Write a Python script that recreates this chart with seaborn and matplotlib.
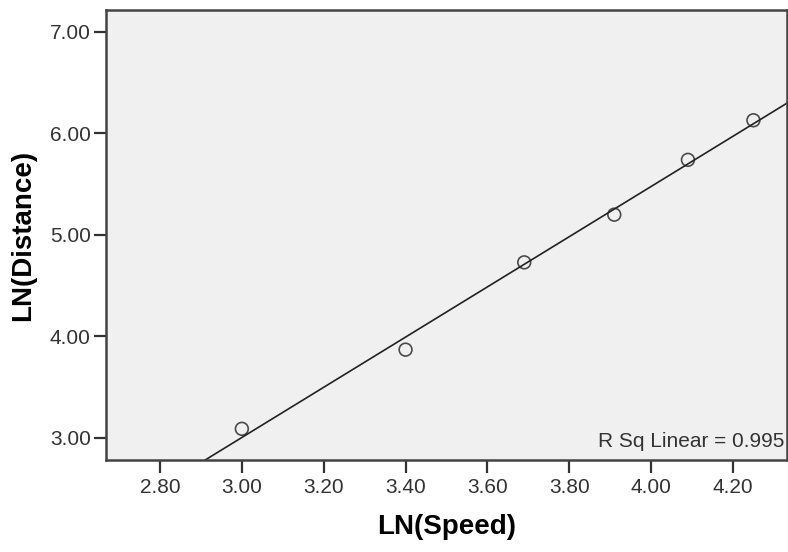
import numpy as np
import pandas as pd
import matplotlib
matplotlib.use("Agg")
import matplotlib.pyplot as plt
import seaborn as sns

# Data
ln_speed = [3.00, 3.40, 3.69, 3.91, 4.09, 4.25]
ln_distance = [3.09, 3.87, 4.73, 5.20, 5.74, 6.13]
x_ticks = [2.80, 3.00, 3.20, 3.40, 3.60, 3.80, 4.00, 4.20]
y_ticks = [3.00, 4.00, 5.00, 6.00, 7.00]
r_sq_text = "R Sq Linear = 0.995"

df = pd.DataFrame({"LN(Speed)": ln_speed, "LN(Distance)": ln_distance})

sns.set_theme(style="ticks")
plt.rcParams["font.family"] = ["Liberation Sans", "DejaVu Sans"]

fig = plt.figure(figsize=(7.88, 5.52), dpi=100)
ax = fig.add_axes([0.1345, 0.1667, 0.8642, 0.8153])
ax.set_facecolor("#f0f0f0")
# regplot with truncate=False spans the current x limits, so set them first
ax.set_xlim(2.668, 4.332)
ax.set_ylim(2.783, 7.217)

sns.regplot(
    data=df, x="LN(Speed)", y="LN(Distance)", ax=ax,
    ci=None, truncate=False,
    scatter_kws=dict(s=85, facecolors="none", edgecolors="#222222", linewidths=1.2),
    line_kws=dict(color="#222222", lw=1.2),
)
ax.set_xlim(2.668, 4.332)
ax.set_ylim(2.783, 7.217)

ax.set_xticks(x_ticks)
ax.set_yticks(y_ticks)
ax.set_xticklabels([f"{v:.2f}" for v in x_ticks])
ax.set_yticklabels([f"{v:.2f}" for v in y_ticks])
ax.tick_params(direction="out", length=9, width=1.6, color="#333333",
               labelsize=15, labelcolor="#333333")
ax.tick_params(axis="x", pad=4)
ax.tick_params(axis="y", pad=2)

for side in ["left", "right", "top", "bottom"]:
    ax.spines[side].set_visible(True)
    ax.spines[side].set_color("#444444")
    ax.spines[side].set_linewidth(1.8)

ax.set_xlabel("LN(Speed)", fontsize=20, fontweight="bold", color="black", labelpad=12)
ax.set_ylabel("LN(Distance)", fontsize=20, fontweight="bold", color="black", labelpad=10)

# fit annotation in the lower right corner
ax.text(0.996, 0.029, r_sq_text, transform=ax.transAxes, fontsize=15,
        color="#333333", ha="right", va="baseline")

fig.savefig("out.png", dpi=100)
